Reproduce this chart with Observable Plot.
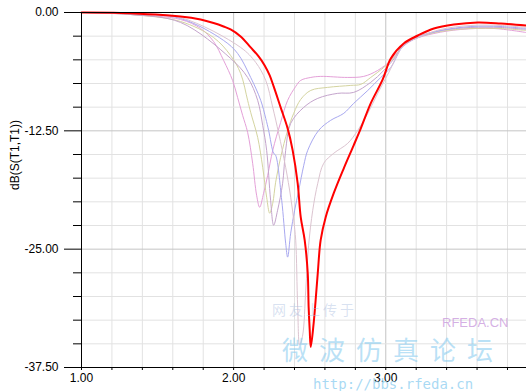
<!DOCTYPE html>
<html><head><meta charset="utf-8">
<script src="https://cdn.jsdelivr.net/npm/d3@7"></script>
<script src="https://cdn.jsdelivr.net/npm/@observablehq/plot@0.6"></script>
<style>
body{margin:0;background:#fff;}
#wrap{position:relative;width:526px;height:391px;overflow:hidden;}
.wm{position:absolute;white-space:nowrap;pointer-events:none;line-height:1;}
</style></head><body><div id="wrap"></div>
<script>
// ---- data (frequency, dB) ----
const yTitle = "dB(S(T1,T1))";
const xMajor = [1, 2, 3];
const xMinor = [1.2, 1.4, 1.6, 1.8, 2.2, 2.4, 2.6, 2.8, 3.2, 3.4, 3.6, 3.8];
const yMajor = [0, -12.5, -25, -37.5];
const yMinor = [-2.5, -5, -7.5, -10, -15, -17.5, -20, -22.5, -27.5, -30, -32.5, -35];

const pinkX = [1.000,1.322,1.651,1.783,1.868,1.934,1.993,2.026,2.059,2.092,2.125,2.151,2.171,2.197,2.224,2.257,2.309,2.355,2.408,2.441,2.507,2.572,2.750,2.855,2.947,3.033,3.099,3.184,3.316,3.493,3.711,3.921];
const pinkY = [0,-0.21,-0.74,-1.69,-3.06,-5.06,-7.17,-8.97,-10.86,-12.66,-15.93,-19.30,-20.57,-19.09,-17.19,-14.56,-11.60,-9.28,-7.81,-7.17,-6.86,-6.75,-6.86,-6.75,-6.12,-5.06,-3.80,-2.85,-2.22,-1.79,-1.69,-2.11];

const oliveX = [1.000,1.322,1.651,1.868,1.980,2.046,2.092,2.112,2.158,2.191,2.217,2.237,2.257,2.276,2.309,2.355,2.395,2.441,2.507,2.618,2.770,2.836,2.901,2.987,3.066,3.118,3.230,3.362,3.559,3.757,3.921];
const oliveY = [0,-0.21,-0.95,-2.64,-4.54,-6.43,-9.28,-10.55,-13.19,-16.35,-19.51,-21.20,-20.15,-17.93,-15.30,-12.45,-10.65,-9.18,-8.23,-7.91,-7.70,-7.59,-6.86,-5.80,-4.54,-3.27,-2.53,-2.00,-1.69,-1.69,-1.90];

const purpleX = [1.000,1.322,1.651,1.980,2.092,2.158,2.191,2.217,2.243,2.263,2.289,2.322,2.342,2.375,2.461,2.553,2.684,2.789,2.901,2.987,3.066,3.118,3.230,3.362,3.559,3.757,3.921];
const purpleY = [0,-0.21,-1.05,-4.85,-6.86,-9.28,-11.92,-14.56,-19.83,-22.47,-20.89,-18.04,-14.56,-11.71,-10.02,-9.07,-8.54,-8.44,-7.38,-6.12,-4.64,-3.27,-2.43,-1.90,-1.58,-1.58,-1.79];

const blueX = [1.000,1.322,1.651,1.934,2.026,2.112,2.178,2.211,2.230,2.263,2.276,2.316,2.342,2.355,2.375,2.401,2.428,2.461,2.487,2.559,2.638,2.724,2.789,2.882,2.967,3.033,3.118,3.230,3.362,3.559,3.757,3.921];
const blueY = [0,-0.11,-0.63,-2.95,-4.32,-6.86,-9.28,-11.18,-12.45,-14.87,-15.08,-19.83,-24.37,-25.84,-23.31,-20.89,-18.78,-16.14,-14.56,-12.45,-11.39,-10.65,-9.60,-8.23,-6.86,-5.80,-3.48,-2.53,-1.90,-1.48,-1.48,-1.69];

const mauveX = [1.000,1.322,1.651,2.046,2.145,2.211,2.257,2.296,2.342,2.375,2.395,2.408,2.421,2.434,2.454,2.474,2.493,2.520,2.553,2.592,2.658,2.750,2.816,2.882,2.947,3.020,3.118,3.230,3.362,3.559,3.757,3.921];
const mauveY = [0,-0.11,-0.53,-3.69,-5.27,-7.17,-10.02,-12.76,-16.35,-19.51,-21.94,-24.05,-31.12,-35.13,-34.07,-29.32,-24.58,-20.89,-18.04,-15.93,-14.87,-13.82,-12.45,-10.65,-8.54,-6.33,-3.48,-2.53,-1.79,-1.37,-1.37,-1.58];

const redX = [1.000,1.257,1.651,1.783,1.868,1.934,1.980,2.046,2.112,2.164,2.204,2.237,2.263,2.309,2.355,2.388,2.421,2.441,2.467,2.487,2.493,2.500,2.507,2.526,2.539,2.553,2.572,2.605,2.658,2.724,2.789,2.836,2.901,2.980,3.033,3.118,3.211,3.316,3.447,3.605,3.757,3.921];
const redY = [0,-0.05,-0.42,-0.74,-1.11,-1.48,-1.79,-2.53,-3.69,-4.64,-5.59,-6.65,-7.81,-10.02,-12.24,-14.56,-18.04,-21.62,-24.05,-27.53,-31.12,-33.54,-35.34,-32.81,-30.38,-27.53,-24.05,-21.62,-19.09,-16.46,-14.03,-12.24,-9.60,-7.07,-4.85,-3.27,-2.43,-1.69,-1.27,-1.05,-1.16,-1.37];

const series = [
  {name: "pink", xs: pinkX, ys: pinkY, color: "#e4a0d8", w: 1},
  {name: "olive", xs: oliveX, ys: oliveY, color: "#d4d4a0", w: 1},
  {name: "purple", xs: purpleX, ys: purpleY, color: "#c4a4cc", w: 1},
  {name: "blue", xs: blueX, ys: blueY, color: "#a8a8f0", w: 1},
  {name: "mauve", xs: mauveX, ys: mauveY, color: "#dcc4d0", w: 1},
  {name: "red", xs: redX, ys: redY, color: "#ff0000", w: 2}
];

const lineMarks = series.map(s => {
  const rows = s.xs.map((x, i) => ({x, y: s.ys[i]}));
  return Plot.line(rows, {x: "x", y: "y", stroke: s.color, strokeWidth: s.w, curve: "catmull-rom"});
});

const chart = Plot.plot({
  width: 526, height: 391,
  marginLeft: 81, marginRight: 0, marginTop: 12, marginBottom: 24,
  style: {fontFamily: "'Liberation Sans', Arial, sans-serif", fontSize: "12px", background: "#fff", color: "#000", overflow: "visible"},
  x: {domain: [1, 3.925]},
  y: {domain: [-37.5, 0]},
  marks: [
    Plot.gridX(xMinor, {stroke: "#e2e2e2", strokeOpacity: 1}),
    Plot.gridX(xMajor.slice(1), {stroke: "#c4c4c4", strokeOpacity: 1}),
    Plot.gridY(yMinor, {stroke: "#e2e2e2", strokeOpacity: 1}),
    Plot.gridY([-12.5, -25], {stroke: "#c4c4c4", strokeOpacity: 1}),
    ...lineMarks,
    Plot.ruleY([0], {stroke: "#000"}),
    Plot.ruleY([-37.5], {stroke: "#000"}),
    Plot.ruleX([1], {stroke: "#000"}),
    Plot.axisY(yMajor, {tickSize: 17, tickPadding: 6, tickFormat: d => d.toFixed(2), label: null}),
    Plot.axisY(yMinor, {tickSize: 8, tickFormat: () => "", label: null}),
    Plot.axisX(xMajor, {tickSize: 3, tickPadding: 3, tickFormat: d => d.toFixed(2), label: null}),
    Plot.axisX(xMinor, {tickSize: 3, tickFormat: () => "", label: null}),
    Plot.text([yTitle], {frameAnchor: "left", dx: -66, rotate: -90, text: d => d, fontSize: 12})
  ]
});
const wrap = document.getElementById("wrap");
wrap.appendChild(chart);

// faint watermark of the source image
const marks = [
  {t: "网友上传于", l: 272, tp: 302, s: 14, c: "rgba(170,190,225,0.45)", f: "'Noto Sans CJK SC', sans-serif", ls: "3px"},
  {t: "RFEDA.CN", l: 442, tp: 316, s: 13, c: "rgba(200,150,220,0.75)", f: "'Liberation Sans', Arial, sans-serif", ls: "0px"},
  {t: "微波仿真论坛", l: 282, tp: 336, s: 26, c: "rgba(140,205,240,0.6)", f: "'Noto Sans CJK SC', sans-serif", ls: "11px"},
  {t: "http://bbs.rfeda.cn", l: 313, tp: 377, s: 14, c: "rgba(140,205,240,0.75)", f: "'DejaVu Sans Mono', monospace", ls: "0px"}
];
marks.forEach(m => {
  const d = document.createElement("div");
  d.className = "wm";
  d.textContent = m.t;
  Object.assign(d.style, {left: m.l + "px", top: m.tp + "px", fontSize: m.s + "px", color: m.c, fontFamily: m.f, letterSpacing: m.ls});
  wrap.appendChild(d);
});
</script></body></html>
